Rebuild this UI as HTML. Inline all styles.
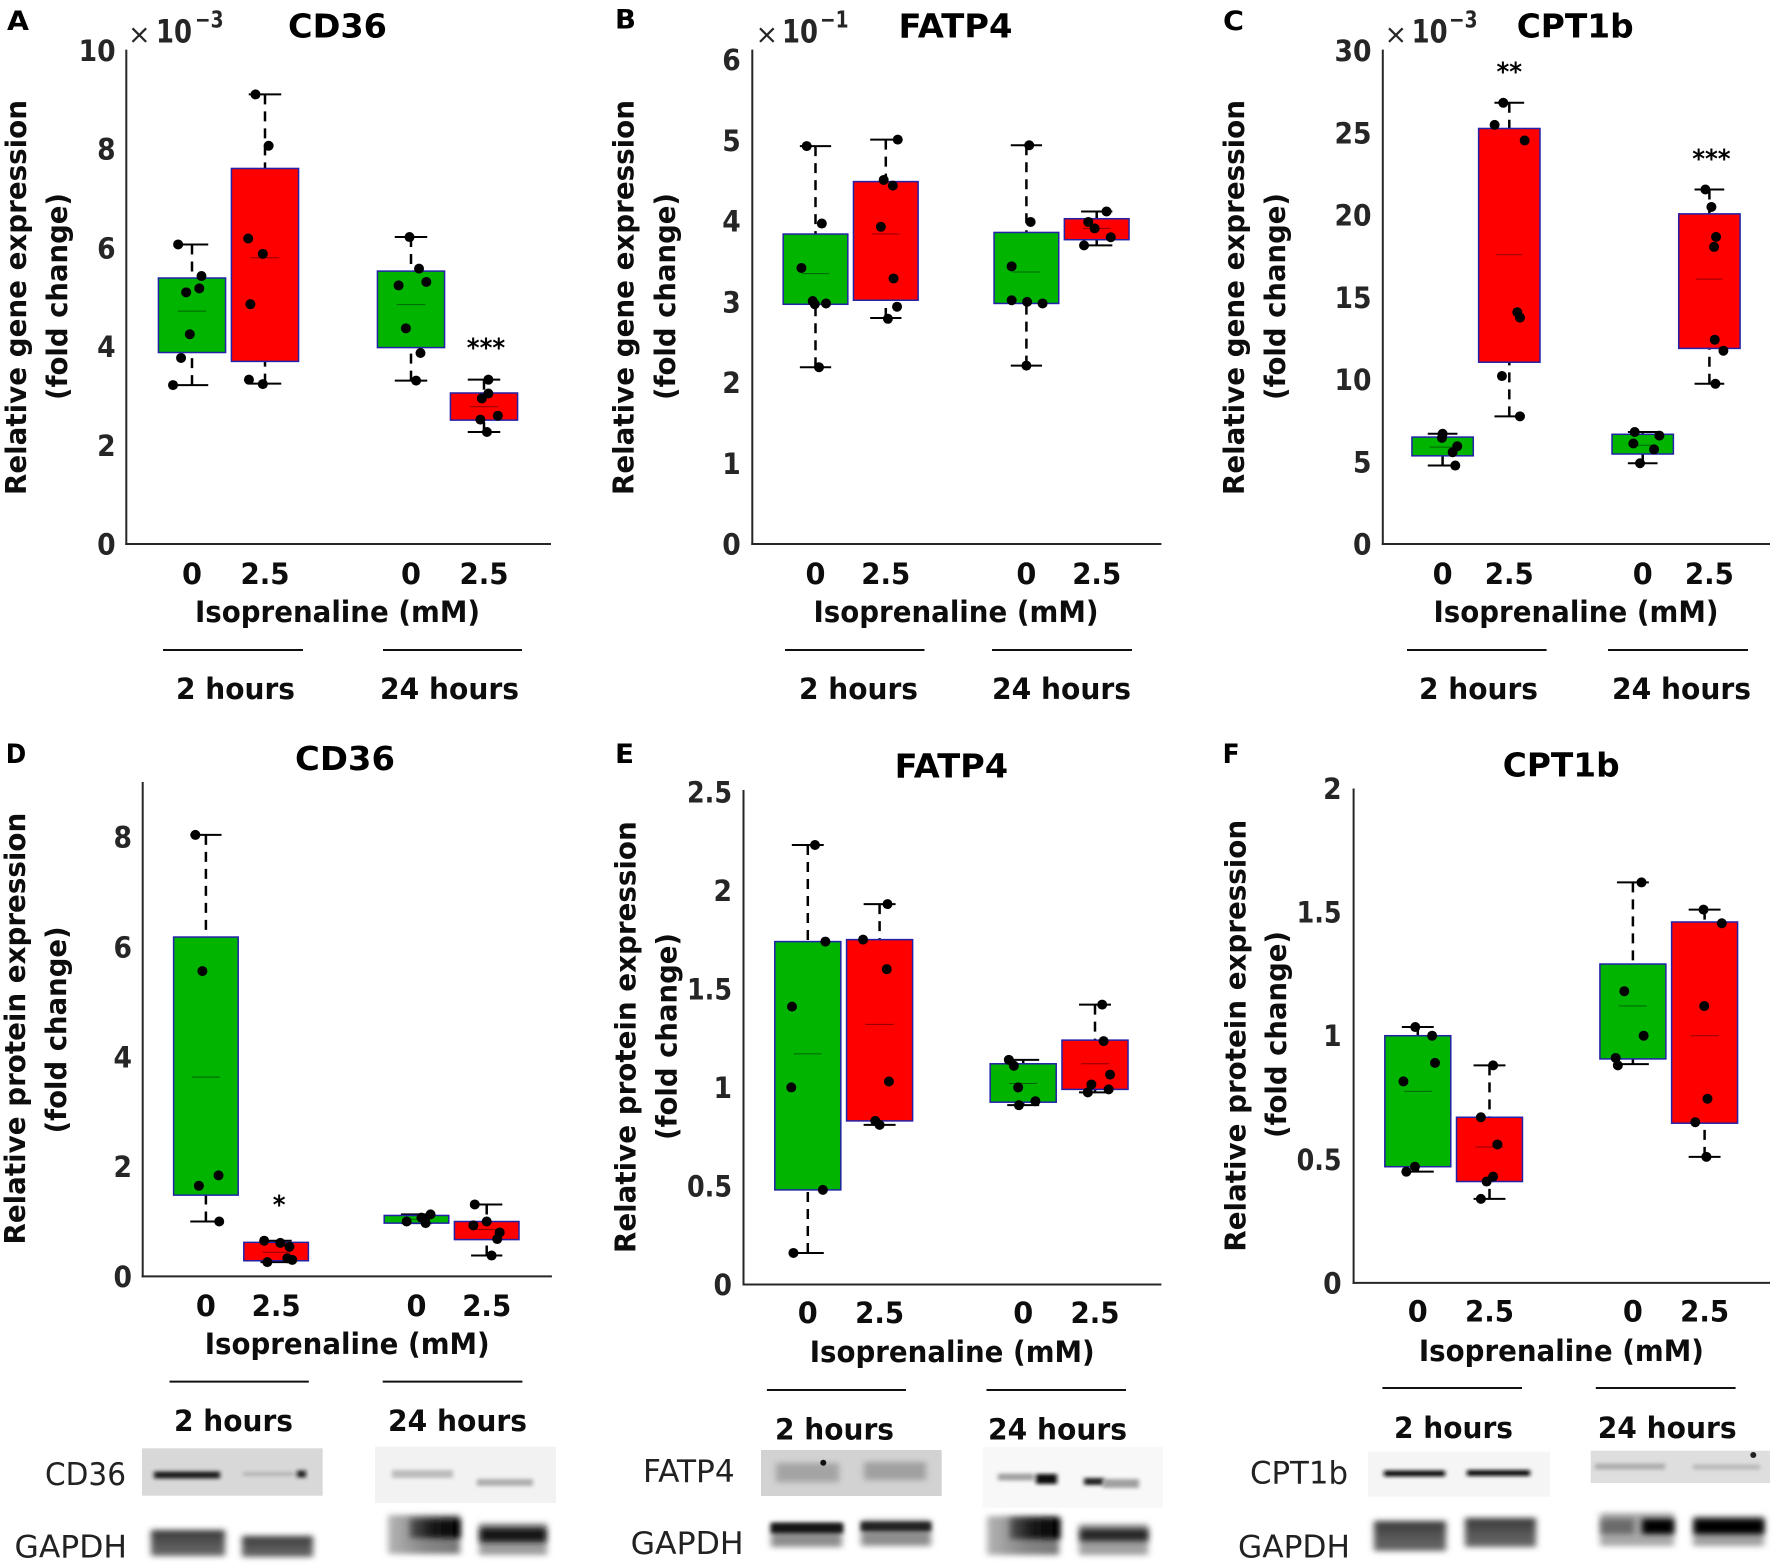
<!DOCTYPE html>
<html lang="en">
<head>
<meta charset="utf-8">
<title>Gene and protein expression box plots</title>
<style>
html,body{margin:0;padding:0;background:#fff}
svg{display:block}
text{font-family:"DejaVu Sans","Liberation Sans",sans-serif}
</style>
</head>
<body>
<svg id="figure" xmlns="http://www.w3.org/2000/svg" width="1772" height="1566" viewBox="0 0 1772 1566">
<defs>
<filter id="blur" x="-30%" y="-300%" width="160%" height="700%"><feGaussianBlur stdDeviation="2.2 1.8"/></filter>
<filter id="blur2" x="-30%" y="-100%" width="160%" height="300%"><feGaussianBlur stdDeviation="3.2 3"/></filter>
<linearGradient id="coreFade"><stop offset="0" stop-color="#555"/><stop offset=".4" stop-color="#1c1c1c"/><stop offset="1" stop-color="#000"/></linearGradient>
<linearGradient id="baseFade"><stop offset="0" stop-color="#b5b5b5"/><stop offset=".5" stop-color="#888"/><stop offset="1" stop-color="#777"/></linearGradient>
<linearGradient id="topDark" x1="0" y1="0" x2="0" y2="1"><stop offset="0" stop-color="#383838"/><stop offset=".5" stop-color="#555"/><stop offset="1" stop-color="#6a6a6a"/></linearGradient>
</defs>
<rect width="1772" height="1566" fill="#fff"/>

<g>
<rect x="142" y="1448.3" width="180.7" height="47.4" fill="#d8d8d8"/>
<rect x="154" y="1471.5" width="66" height="7" fill="#1e1e1e" filter="url(#blur)"/>
<rect x="243" y="1472" width="52" height="4" fill="#b4b4b4" filter="url(#blur)"/>
<rect x="297" y="1470.5" width="9" height="7" fill="#222" filter="url(#blur)"/>
<rect x="375" y="1446.7" width="181" height="56.3" fill="#f2f2f2"/>
<rect x="392" y="1470" width="61" height="8" fill="#bcbcbc" filter="url(#blur)"/>
<rect x="477" y="1479" width="56" height="7" fill="#aeaeae" filter="url(#blur)"/>
<rect x="151" y="1530" width="74" height="26" fill="url(#topDark)" filter="url(#blur2)"/>
<rect x="242" y="1536" width="71" height="21" fill="url(#topDark)" filter="url(#blur2)"/>
<rect x="388" y="1515" width="72" height="39" fill="url(#baseFade)" filter="url(#blur2)"/>
<rect x="410" y="1519" width="50" height="19" fill="url(#coreFade)" filter="url(#blur2)"/>
<rect x="479" y="1523" width="68" height="32" fill="#9c9c9c" filter="url(#blur2)"/>
<rect x="480" y="1528" width="66" height="14" fill="#141414" filter="url(#blur2)"/>
</g>

<g>
<rect x="761" y="1450" width="180.7" height="46" fill="#d2d2d2"/>
<rect x="776" y="1463" width="63" height="19" fill="#a4a4a4" filter="url(#blur2)"/>
<rect x="864" y="1462" width="62" height="18" fill="#a0a0a0" filter="url(#blur2)"/>
<ellipse cx="823.3" cy="1462.7" rx="3" ry="3" fill="#111"/>
<rect x="982.7" y="1446.7" width="180.3" height="61" fill="#f8f8f8"/>
<rect x="998" y="1473.5" width="36" height="7" fill="#a2a2a2" filter="url(#blur)"/>
<rect x="1036" y="1474" width="21" height="10" fill="#0c0c0c" filter="url(#blur)"/>
<rect x="1084" y="1478" width="20" height="7" fill="#222" filter="url(#blur)"/>
<rect x="1103" y="1479" width="36" height="9" fill="#a0a0a0" filter="url(#blur)"/>
<rect x="771" y="1523" width="71" height="24" fill="#8e8e8e" filter="url(#blur2)"/>
<rect x="771" y="1523" width="72" height="10" fill="#171717" filter="url(#blur)"/>
<rect x="861" y="1520" width="70" height="26" fill="#8e8e8e" filter="url(#blur2)"/>
<rect x="861" y="1522" width="70" height="9" fill="#202020" filter="url(#blur)"/>
<rect x="987" y="1516" width="72" height="39" fill="url(#baseFade)" filter="url(#blur2)"/>
<rect x="1010" y="1518" width="50" height="21" fill="url(#coreFade)" filter="url(#blur2)"/>
<rect x="1079" y="1524" width="69" height="31" fill="#a0a0a0" filter="url(#blur2)"/>
<rect x="1080" y="1529" width="68" height="12" fill="#252525" filter="url(#blur2)"/>
</g>

<g>
<rect x="1368" y="1451.7" width="182" height="45" fill="#f5f5f5"/>
<rect x="1384" y="1470.5" width="61" height="6" fill="#0a0a0a" filter="url(#blur)"/>
<rect x="1467" y="1470" width="63" height="6" fill="#0a0a0a" filter="url(#blur)"/>
<rect x="1590.7" y="1450.7" width="179.3" height="32.3" fill="#dedede"/>
<rect x="1595" y="1463.5" width="70" height="6" fill="#adadad" filter="url(#blur)"/>
<rect x="1693" y="1464.5" width="67" height="5" fill="#b8b8b8" filter="url(#blur)"/>
<ellipse cx="1753.3" cy="1455" rx="3" ry="3" fill="#222"/>
<rect x="1374" y="1521" width="72" height="30" fill="url(#topDark)" filter="url(#blur2)"/>
<rect x="1465" y="1518" width="71" height="29" fill="url(#topDark)" filter="url(#blur2)"/>
<rect x="1600" y="1513" width="74" height="33" fill="#a8a8a8" filter="url(#blur2)"/>
<rect x="1601" y="1519" width="33" height="15" fill="#6a6a6a" filter="url(#blur2)"/>
<rect x="1642" y="1519" width="32" height="15" fill="#050505" filter="url(#blur2)"/>
<rect x="1693" y="1516" width="71" height="30" fill="#a0a0a0" filter="url(#blur2)"/>
<rect x="1694" y="1519" width="70" height="15" fill="#030303" filter="url(#blur2)"/>
</g>
</svg>

<script>
const categories = ['0', '2.5', '0', '2.5'];
const categoryPositions = [0, 1, 3, 4];
const timeLabels = ['2 hours', '24 hours'];
const xAxisTitle = 'Isoprenaline (mM)';
const geneLabel = 'Relative gene expression';
const proteinLabel = 'Relative protein expression';
const foldLabel = '(fold change)';

// Panel A: CD36 gene expression
const aTicks = [0, 2, 4, 6, 8, 10];
const aTickLabels = ['0', '2', '4', '6', '8', '10'];
const aQ3 = [5.39, 7.61, 5.53, 3.06];
const aMedian = [4.72, 5.80, 4.85, 2.78];
const aQ1 = [3.88, 3.70, 3.98, 2.51];
const aHigh = [6.07, 9.11, 6.22, 3.33];
const aLow = [3.22, 3.25, 3.31, 2.27];
const aPoints = [
  [6.07, 5.43, 5.18, 5.10, 4.25, 3.77, 3.22],
  [9.11, 8.07, 6.19, 5.88, 4.86, 3.33, 3.24],
  [6.22, 5.58, 5.24, 5.31, 4.37, 3.87, 3.31],
  [3.33, 3.05, 2.95, 2.52, 2.60, 2.27]
];
const aJitter = [
  [-.19, .13, .10, -.08, -.03, -.15, -.26],
  [-.13, .05, -.23, -.03, -.20, -.22, -.03],
  [-.02, .11, -.17, .21, -.07, .13, .07],
  [.06, .06, -.03, -.05, .19, .04]
];
const aSignificance = ['', '', '', '***'];
const aSignificanceAt = [0, 0, 0, 4.07];

// Panel B: FATP4 gene expression
const bTicks = [0, 1, 2, 3, 4, 5, 6];
const bTickLabels = ['0', '1', '2', '3', '4', '5', '6'];
const bQ3 = [3.84, 4.49, 3.86, 4.03];
const bMedian = [3.35, 3.84, 3.37, 3.91];
const bQ1 = [2.97, 3.02, 2.98, 3.77];
const bHigh = [4.93, 5.01, 4.94, 4.12];
const bLow = [2.19, 2.80, 2.21, 3.70];
const bPoints = [
  [4.93, 3.97, 3.42, 3.01, 2.97, 2.98, 2.19],
  [5.01, 4.51, 4.44, 3.93, 3.29, 2.94, 2.79],
  [4.94, 3.99, 3.44, 3.02, 3.00, 2.98, 2.21],
  [4.12, 3.99, 3.91, 3.80, 3.70]
];
const bJitter = [
  [-.125, .09, -.20, -.04, -.01, .15, .05],
  [.17, -.03, .10, -.07, .11, .16, .03],
  [.04, .06, -.21, -.21, .01, .23, 0],
  [.14, -.12, -.03, .20, -.18]
];
const bSignificance = ['', '', '', ''];
const bSignificanceAt = [0, 0, 0, 0];

// Panel C: CPT1b gene expression
const cTicks = [0, 5, 10, 15, 20, 25, 30];
const cTickLabels = ['0', '5', '10', '15', '20', '25', '30'];
const cQ3 = [6.50, 25.26, 6.67, 20.07];
const cMedian = [5.89, 17.58, 6.00, 16.10];
const cQ1 = [5.36, 11.05, 5.47, 11.89];
const cHigh = [6.70, 26.82, 6.81, 21.55];
const cLow = [4.77, 7.76, 4.91, 9.74];
const cPoints = [
  [6.70, 6.45, 5.94, 5.58, 4.77],
  [26.82, 25.48, 24.53, 14.09, 13.76, 10.21, 7.76],
  [6.81, 6.59, 6.11, 5.75, 4.91],
  [21.55, 20.49, 18.67, 18.06, 12.42, 11.75, 9.74]
];
const cJitter = [
  [0, -.01, .22, .15, .19],
  [-.09, -.22, .23, .12, .16, -.11, .16],
  [-.12, .25, -.14, .17, -.04],
  [-.06, .03, .10, .07, .08, .21, .09]
];
const cSignificance = ['', '**', '', '***'];
const cSignificanceAt = [0, 29.0, 0, 23.7];

// Panel D: CD36 protein expression
const dTicks = [0, 2, 4, 6, 8];
const dTickLabels = ['0', '2', '4', '6', '8'];
const dQ3 = [6.18, 0.62, 1.11, 1.00];
const dMedian = [3.63, 0.44, 1.04, 0.855];
const dQ1 = [1.48, 0.285, 0.97, 0.67];
const dHigh = [8.04, 0.65, 1.13, 1.31];
const dLow = [1.00, 0.26, 0.97, 0.38];
const dPoints = [
  [8.04, 5.56, 1.84, 1.65, 1.00],
  [0.65, 0.61, 0.54, 0.33, 0.30, 0.26],
  [1.13, 1.07, 1.00, 0.97, 1.04],
  [1.31, 1.00, 0.93, 0.80, 0.68, 0.38]
];
const dJitter = [
  [-.15, -.05, .18, -.10, .19],
  [-.17, .06, .19, .16, .23, -.125],
  [.20, .07, -.14, .13, .12],
  [-.17, 0, -.19, .185, .15, .07]
];
const dSignificance = ['', '*', '', ''];
const dSignificanceAt = [0, 1.39, 0, 0];

// Panel E: FATP4 protein expression
const eTicks = [0, 0.5, 1, 1.5, 2, 2.5];
const eTickLabels = ['0', '0.5', '1', '1.5', '2', '2.5'];
const eQ3 = [1.74, 1.75, 1.12, 1.24];
const eMedian = [1.17, 1.32, 1.02, 1.12];
const eQ1 = [0.48, 0.83, 0.925, 0.99];
const eHigh = [2.23, 1.93, 1.14, 1.42];
const eLow = [0.16, 0.81, 0.91, 0.975];
const ePoints = [
  [2.23, 1.74, 1.41, 1.00, 0.48, 0.16],
  [1.93, 1.75, 1.60, 1.03, 0.83, 0.81],
  [1.14, 1.11, 1.00, 0.93, 0.91],
  [1.42, 1.235, 1.065, 1.015, 0.99, 0.975]
];
const eJitter = [
  [.10, .245, -.22, -.23, .21, -.20],
  [.11, -.23, .10, .13, -.06, 0],
  [-.20, -.13, -.07, .17, -.06],
  [.10, .12, .21, -.05, .19, -.10]
];
const eSignificance = ['', '', '', ''];
const eSignificanceAt = [0, 0, 0, 0];

// Panel F: CPT1b protein expression
const fTicks = [0, 0.5, 1, 1.5, 2];
const fTickLabels = ['0', '0.5', '1', '1.5', '2'];
const fQ3 = [1.00, 0.67, 1.29, 1.46];
const fMedian = [0.775, 0.55, 1.12, 1.00];
const fQ1 = [0.47, 0.41, 0.906, 0.646];
const fHigh = [1.035, 0.88, 1.62, 1.51];
const fLow = [0.45, 0.34, 0.885, 0.51];
const fPoints = [
  [1.035, 1.00, 0.89, 0.815, 0.47, 0.45],
  [0.88, 0.67, 0.56, 0.43, 0.41, 0.34],
  [1.62, 1.18, 1.00, 0.91, 0.88],
  [1.51, 1.455, 1.12, 0.745, 0.65, 0.51]
];
const fJitter = [
  [-.035, .20, .24, -.20, -.04, -.16],
  [.05, -.12, .11, .05, -.04, -.12],
  [.12, -.12, .15, -.24, -.21],
  [-.015, .24, -.005, .04, -.13, .025]
];
const fSignificance = ['', '', '', ''];
const fSignificanceAt = [0, 0, 0, 0];

const svg = document.getElementById('figure');
const NS = 'http://www.w3.org/2000/svg';

function mk(tag, attrs, parent) {
  const node = document.createElementNS(NS, tag);
  for (const k in attrs) node.setAttribute(k, attrs[k]);
  parent.appendChild(node);
  return node;
}
function txt(parent, str, x, y, size, weight, len, fill, rotate) {
  const attrs = {x: x, y: y, 'font-size': size, 'font-weight': weight, fill: fill};
  if (len) { attrs.textLength = len; attrs.lengthAdjust = 'spacingAndGlyphs'; }
  if (rotate) attrs.transform = 'rotate(-90 ' + x + ' ' + y + ')';
  const node = mk('text', attrs, parent);
  node.textContent = str;
  return node;
}
function numWidth(s, digit, dot) {
  let w = 0;
  for (const c of s) w += c === '.' ? dot : digit;
  return w;
}

const panels = [
  {letter:'A', title:'CD36', ticks:aTicks, tickLabels:aTickLabels, q3:aQ3, med:aMedian, q1:aQ1, hi:aHigh, lo:aLow, pts:aPoints, jit:aJitter, sig:aSignificance, sigAt:aSignificanceAt,
   letterX:7, letterY:30, letterLen:22, titleX:288, titleY:37.6, titleLen:99,
   axisX:126.3, right:551, yBase:544, yTopTick:50.5, axisTop:49.6, x0:192, step:73, tickRight:115.6, xTickY:584,
   isoX:195, isoY:622, lineY:650, lines:[163,303,383,522], hoursY:699, h2X:176, h24X:380,
   yLab:geneLabel, yLabX:26, yLabBottom:495, yLabLen:395, foldX:67, foldBottom:400, mult:[128,156,195,'3']},
  {letter:'B', title:'FATP4', ticks:bTicks, tickLabels:bTickLabels, q3:bQ3, med:bMedian, q1:bQ1, hi:bHigh, lo:bLow, pts:bPoints, jit:bJitter, sig:bSignificance, sigAt:bSignificanceAt,
   letterX:615, letterY:28.5, letterLen:21, titleX:898.5, titleY:37.6, titleLen:114,
   axisX:752.3, right:1161.4, yBase:544, yTopTick:59.7, axisTop:49.6, x0:815.5, step:70.3, tickRight:740.8, xTickY:584,
   isoX:813.5, isoY:622, lineY:650, lines:[785,924.5,992,1132], hoursY:699, h2X:799, h24X:992,
   yLab:geneLabel, yLabX:633.6, yLabBottom:495, yLabLen:395, foldX:675, foldBottom:400, mult:[755.5,782,820,'1']},
  {letter:'C', title:'CPT1b', ticks:cTicks, tickLabels:cTickLabels, q3:cQ3, med:cMedian, q1:cQ1, hi:cHigh, lo:cLow, pts:cPoints, jit:cJitter, sig:cSignificance, sigAt:cSignificanceAt,
   letterX:1223, letterY:30, letterLen:21, titleX:1516.7, titleY:37.6, titleLen:117,
   axisX:1382.8, right:1770, yBase:544, yTopTick:50.5, axisTop:49.6, x0:1442.6, step:66.7, tickRight:1371.5, xTickY:584,
   isoX:1433.5, isoY:622, lineY:650, lines:[1407,1546.6,1608,1748], hoursY:699, h2X:1419, h24X:1612,
   yLab:geneLabel, yLabX:1243.9, yLabBottom:495, yLabLen:395, foldX:1285, foldBottom:400, mult:[1384.5,1411.6,1449,'3']},
  {letter:'D', title:'CD36', ticks:dTicks, tickLabels:dTickLabels, q3:dQ3, med:dMedian, q1:dQ1, hi:dHigh, lo:dLow, pts:dPoints, jit:dJitter, sig:dSignificance, sigAt:dSignificanceAt,
   letterX:5.7, letterY:763, letterLen:20.5, titleX:295, titleY:770, titleLen:100,
   axisX:142.7, right:551.9, yBase:1276.4, yTopTick:837.1, axisTop:782, x0:205.9, step:70.2, tickRight:132, xTickY:1316,
   isoX:204.7, isoY:1354, lineY:1381.6, lines:[169.5,308.8,382.7,522.4], hoursY:1431, h2X:174, h24X:388,
   yLab:proteinLabel, yLabX:24.8, yLabBottom:1244.5, yLabLen:431.7, foldX:66, foldBottom:1133.4, mult:null,
   blotLab:'CD36', blotLabX:45, blotLabY:1485, blotLabLen:81, gapX:14.5, gapY:1557.6, gapLen:112.5},
  {letter:'E', title:'FATP4', ticks:eTicks, tickLabels:eTickLabels, q3:eQ3, med:eMedian, q1:eQ1, hi:eHigh, lo:eLow, pts:ePoints, jit:eJitter, sig:eSignificance, sigAt:eSignificanceAt,
   letterX:615, letterY:763, letterLen:19, titleX:894.7, titleY:777.7, titleLen:113.5,
   axisX:743.5, right:1161.4, yBase:1284.5, yTopTick:791.8, axisTop:790, x0:807.8, step:71.8, tickRight:732, xTickY:1323,
   isoX:809.7, isoY:1362, lineY:1390, lines:[766.9,906,986.5,1126], hoursY:1439.4, h2X:775, h24X:988,
   yLab:proteinLabel, yLabX:635.5, yLabBottom:1253, yLabLen:431.7, foldX:676.5, foldBottom:1140, mult:null,
   blotLab:'FATP4', blotLabX:643, blotLabY:1482, blotLabLen:91.7, gapX:630.6, gapY:1553.8, gapLen:113},
  {letter:'F', title:'CPT1b', ticks:fTicks, tickLabels:fTickLabels, q3:fQ3, med:fMedian, q1:fQ1, hi:fHigh, lo:fLow, pts:fPoints, jit:fJitter, sig:fSignificance, sigAt:fSignificanceAt,
   letterX:1222.6, letterY:763, letterLen:17, titleX:1502.8, titleY:776.7, titleLen:116.8,
   axisX:1353.6, right:1770, yBase:1282.9, yTopTick:788.5, axisTop:788.5, x0:1417.8, step:71.7, tickRight:1341.6, xTickY:1321.7,
   isoX:1418.9, isoY:1361, lineY:1388, lines:[1382.4,1522,1595.8,1735.6], hoursY:1437.8, h2X:1394, h24X:1597.7,
   yLab:proteinLabel, yLabX:1245.7, yLabBottom:1251.6, yLabLen:431.7, foldX:1286, foldBottom:1138, mult:null,
   blotLab:'CPT1b', blotLabX:1250, blotLabY:1483.6, blotLabLen:98, gapX:1238, gapY:1557.6, gapLen:112}
];

const TICK_GRAY = '#262626';
const INK = '#0d0d0d';

panels.forEach(function (p) {
  const g = mk('g', {}, svg);
  
  

  const maxTick = p.ticks[p.ticks.length - 1];
  const yScale = function (v) { return p.yBase - (v / maxTick) * (p.yBase - p.yTopTick); };
  const xScale = function (u) { return p.x0 + u * p.step; };

  const letter = txt(g, p.letter, p.letterX, p.letterY, 27, 700, p.letterLen, '#000');
  
  

  const title = txt(g, p.title, p.titleX, p.titleY, 33, 700, p.titleLen, '#000');
  
  

  const yAxis = mk('line', {x1: p.axisX, x2: p.axisX, y1: p.axisTop, y2: p.yBase + 1, stroke: TICK_GRAY, 'stroke-width': 2}, g);
  
  

  const xAxis = mk('line', {x1: p.axisX - 1, x2: p.right, y1: p.yBase, y2: p.yBase, stroke: TICK_GRAY, 'stroke-width': 2}, g);
  
  

  p.ticks.forEach(function (v, i) {
    const s = p.tickLabels[i];
    const w = numWidth(s, 18.5, 8);
    const tick = txt(g, s, p.tickRight - w, yScale(v) + 10.5, 29, 700, w, TICK_GRAY);
    
    
  });

  categories.forEach(function (c, i) {
    const w = numWidth(c, 20, 9);
    const tick = txt(g, c, xScale(categoryPositions[i]) - w / 2, p.xTickY, 29, 700, w, INK);
    
    
  });

  const iso = txt(g, xAxisTitle, p.isoX, p.isoY, 29, 700, 285, INK);
  
  

  const yLab = txt(g, p.yLab, p.yLabX, p.yLabBottom, 28.5, 700, p.yLabLen, INK, true);
  
  

  const fold = txt(g, foldLabel, p.foldX, p.foldBottom, 28.5, 700, 207, INK, true);
  
  

  const line2h = mk('line', {x1: p.lines[0], x2: p.lines[1], y1: p.lineY, y2: p.lineY, stroke: '#111', 'stroke-width': 2}, g);
  
  

  const line24h = mk('line', {x1: p.lines[2], x2: p.lines[3], y1: p.lineY, y2: p.lineY, stroke: '#111', 'stroke-width': 2}, g);
  
  

  const h2 = txt(g, timeLabels[0], p.h2X, p.hoursY, 29, 700, 119, INK);
  
  

  const h24 = txt(g, timeLabels[1], p.h24X, p.hoursY, 29, 700, 139, INK);
  
  

  if (p.mult) {
    const times = txt(g, '\u00d7', p.mult[0], 43.5, 27, 400, 0, TICK_GRAY);
    
    
    const ten = txt(g, '10', p.mult[1], 42.7, 32, 700, 36, TICK_GRAY);
    
    
    const exp = txt(g, '\u2212' + p.mult[3], p.mult[2], 27.3, 23, 700, 28.5, TICK_GRAY);
    
    
  }

  if (p.blotLab) {
    const bl = txt(g, p.blotLab, p.blotLabX, p.blotLabY, 31, 400, p.blotLabLen, '#222');
    
    
    const gl = txt(g, 'GAPDH', p.gapX, p.gapY, 31, 400, p.gapLen, '#222');
    
    
  }

  categories.forEach(function (c, i) {
    const u = categoryPositions[i];
    const cx = xScale(u);
    const boxW = 0.92 * p.step;
    const capW = 0.445 * p.step;
    const medW = 0.39 * p.step;

    const wUp = mk('line', {x1: cx, x2: cx, y1: yScale(p.hi[i]), y2: yScale(p.q3[i]), stroke: '#000', 'stroke-width': 2.5, 'stroke-dasharray': '10 7'}, g);
    
    

    const wDown = mk('line', {x1: cx, x2: cx, y1: yScale(p.lo[i]), y2: yScale(p.q1[i]), stroke: '#000', 'stroke-width': 2.5, 'stroke-dasharray': '10 7'}, g);
    
    

    const capUp = mk('line', {x1: cx - capW / 2, x2: cx + capW / 2, y1: yScale(p.hi[i]), y2: yScale(p.hi[i]), stroke: '#000', 'stroke-width': 2}, g);
    
    

    const capDown = mk('line', {x1: cx - capW / 2, x2: cx + capW / 2, y1: yScale(p.lo[i]), y2: yScale(p.lo[i]), stroke: '#000', 'stroke-width': 2}, g);
    
    

    const box = mk('rect', {x: cx - boxW / 2, y: yScale(p.q3[i]), width: boxW, height: yScale(p.q1[i]) - yScale(p.q3[i]), fill: i % 2 ? '#ff0000' : '#00b400', stroke: '#2222a8', 'stroke-width': 1.5}, g);
    
    

    const med = mk('line', {x1: cx - medW / 2, x2: cx + medW / 2, y1: yScale(p.med[i]), y2: yScale(p.med[i]), stroke: '#000', 'stroke-opacity': 0.45, 'stroke-width': 1}, g);
    
    

    p.pts[i].forEach(function (v, j) {
      const dot = mk('circle', {cx: xScale(u + p.jit[i][j]), cy: yScale(v), r: 5, fill: '#000'}, g);
      
      
    });

    if (p.sig[i]) {
      const n = p.sig[i].length;
      const sig = txt(g, p.sig[i], xScale(u) + (n === 3 ? 2 : n === 1 ? 3 : 0) - n * 6.4, yScale(p.sigAt[i]) + 13.5, 26, 700, n * 12.8, '#000');
      
      
    }
  });
});
</script>
</body>
</html>
